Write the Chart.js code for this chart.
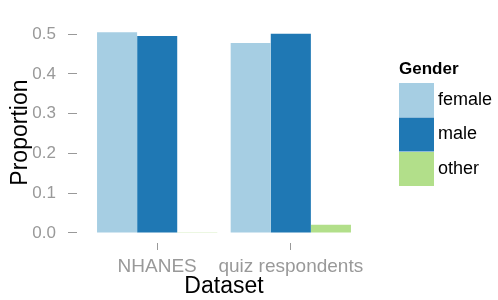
<!DOCTYPE html>
<html>
<head>
<meta charset="utf-8">
<script src="https://cdn.jsdelivr.net/npm/chart.js@4"></script>
<style>
  body { margin: 0; background: #fff; }
  #wrap { width: 498px; height: 300px; }
</style>
</head>
<body>
<div id="wrap"><canvas id="chart" width="498" height="300"></canvas></div>
<script>
// Data
const datasets = ['NHANES', 'quiz respondents'];
const genders = ['female', 'male', 'other'];
const female = [0.505, 0.478];
const male = [0.495, 0.501];
const other = [0.002, 0.021];
const yTicks = [0, 0.1, 0.2, 0.3, 0.4, 0.5];
const colors = ['#a6cee3', '#1f78b4', '#b2df8a'];

const FONT = "'Liberation Sans', Arial, sans-serif";
const TICK_GREY = '#999999';

function toPoints(values) {
    return values.map((v, i) => ({ x: i, y: v }));
}

// Legend drawn on the right, ggplot style
const sideLegend = {
    id: 'sideLegend',
    afterDraw(chart) {
        const ctx = chart.ctx;
        const x = 399;
        ctx.save();
        ctx.fillStyle = '#000';
        ctx.font = 'bold 17px ' + FONT;
        ctx.textBaseline = 'alphabetic';
        ctx.textAlign = 'left';
        ctx.fillText('Gender', x, 74);

        ctx.font = '18px ' + FONT;
        ctx.textBaseline = 'middle';
        chart.data.datasets.forEach((ds, i) => {
            const top = 83 + i * 34.5;
            ctx.fillStyle = ds.backgroundColor;
            ctx.fillRect(x, top, 35, 34);
            ctx.fillStyle = '#000';
            ctx.fillText(ds.label, x + 39, top + 17);
        });
        ctx.restore();
    }
};

new Chart(document.getElementById('chart'), {
    type: 'bar',
    data: {
        datasets: [
            { label: genders[0], data: toPoints(female), backgroundColor: colors[0] },
            { label: genders[1], data: toPoints(male), backgroundColor: colors[1] },
            { label: genders[2], data: toPoints(other), backgroundColor: colors[2] }
        ]
    },
    options: {
        responsive: false,
        animation: false,
        events: [],
        layout: { padding: { top: 5, right: 127, left: 0, bottom: 0 } },
        datasets: {
            bar: { categoryPercentage: 0.9, barPercentage: 1.0, borderWidth: 0 }
        },
        plugins: {
            legend: { display: false },
            tooltip: { enabled: false }
        },
        scales: {
            x: {
                type: 'linear',
                offset: false,
                min: -0.6,
                max: 1.6,
                afterBuildTicks: scale => {
                    scale.ticks = datasets.map((d, i) => ({ value: i }));
                },
                afterFit: scale => { scale.height = 57; },
                grid: {
                    offset: false,
                    drawOnChartArea: false,
                    drawTicks: true,
                    tickLength: 7,
                    color: TICK_GREY
                },
                border: { display: false },
                ticks: {
                    color: TICK_GREY,
                    font: { family: FONT, size: 19 },
                    padding: 5,
                    maxRotation: 0,
                    autoSkip: false,
                    callback: v => datasets[v]
                },
                title: {
                    display: true,
                    text: 'Dataset',
                    color: '#000',
                    font: { family: FONT, size: 23 },
                    padding: { top: -2, bottom: 0 }
                }
            },
            y: {
                min: -0.0252,
                max: 0.530,
                afterBuildTicks: scale => {
                    scale.ticks = yTicks.map(v => ({ value: v }));
                },
                afterFit: scale => { scale.width = 77; },
                grid: {
                    drawOnChartArea: false,
                    drawTicks: true,
                    tickLength: 9,
                    color: TICK_GREY
                },
                border: { display: false },
                ticks: {
                    color: TICK_GREY,
                    font: { family: FONT, size: 17 },
                    padding: 12,
                    callback: v => v.toFixed(1)
                },
                title: {
                    display: true,
                    text: 'Proportion',
                    color: '#000',
                    font: { family: FONT, size: 23 },
                    padding: { top: 7, bottom: 0 }
                }
            }
        }
    },
    plugins: [sideLegend]
});
</script>
</body>
</html>
